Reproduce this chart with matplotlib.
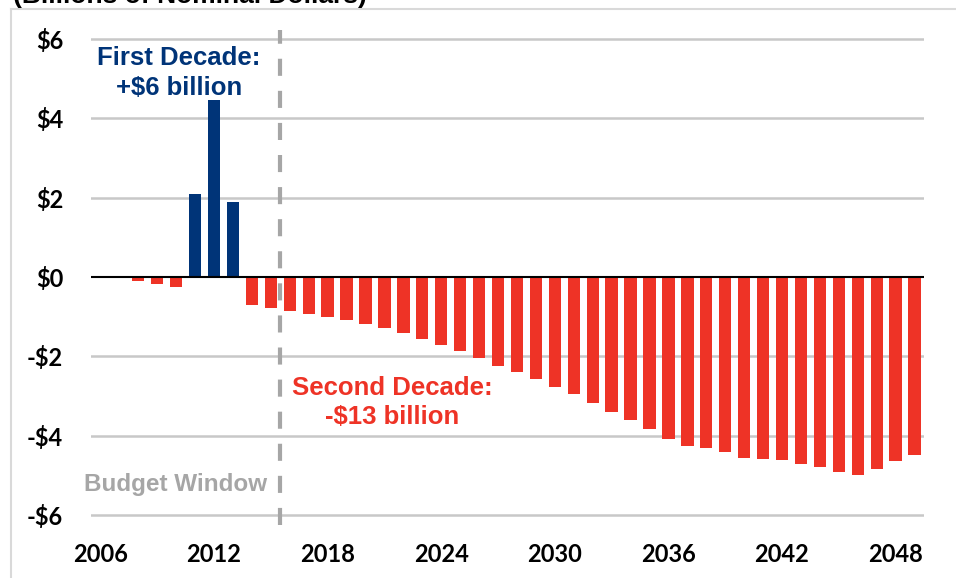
import matplotlib
matplotlib.use("Agg")
import matplotlib.pyplot as plt
from matplotlib.lines import Line2D

years = list(range(2006, 2050))
values = [-0.01, -0.02, -0.10, -0.17, -0.24, 2.09, 4.46, 1.89, -0.70, -0.77,
          -0.85, -0.92, -1.00, -1.08, -1.18, -1.28, -1.40, -1.56, -1.72, -1.87,
          -2.05, -2.24, -2.40, -2.57, -2.76, -2.94, -3.17, -3.40, -3.61, -3.83,
          -4.08, -4.25, -4.30, -4.40, -4.55, -4.59, -4.61, -4.71, -4.80, -4.91,
          -5.00, -4.85, -4.64, -4.49]
xtick_years = [2006, 2012, 2018, 2024, 2030, 2036, 2042, 2048]
ytick_vals = [-6, -4, -2, 0, 2, 4, 6]
ytick_labels = ["-$6", "-$4", "-$2", "$0", "$2", "$4", "$6"]
budget_window_end = 2015.5

NAVY = "#003478"
RED = "#EE3326"
GRAY = "#A6A6A6"

W, H = 956, 578
fig = plt.figure(figsize=(W / 100, H / 100), dpi=100)
ax = fig.add_axes([91 / W, (H - 525) / H, (924 - 91) / W, (525 - 30) / H])

colors = [NAVY if v > 0 else RED for v in values]
ax.bar(years, values, width=0.65, color=colors, zorder=3)

ax.set_xlim(2005.5, 2049.5)
ax.set_ylim(-6.25, 6.23)
for v in ytick_vals:
    if v == 0:
        ax.axhline(0, color="black", lw=1.5, zorder=4)
    else:
        ax.axhline(v, color="#C8C8C8", lw=1.8, zorder=1)

ax.axvline(budget_window_end, color=GRAY, lw=3.0, dashes=(4.1, 3.6), zorder=5)

for s in ax.spines.values():
    s.set_visible(False)
ax.set_xticks(xtick_years)
ax.set_xticklabels([str(y) for y in xtick_years])
ax.set_yticks(ytick_vals)
ax.set_yticklabels(ytick_labels)
ax.tick_params(length=0)
ax.tick_params(axis="x", pad=13)
ax.tick_params(axis="y", pad=20)
for lab in ax.get_xticklabels() + ax.get_yticklabels():
    lab.set_fontfamily(["Lato", "DejaVu Sans"])
    lab.set_fontweight("bold")
    lab.set_fontsize(17)

ann_font = ["Liberation Sans", "DejaVu Sans"]
ax.text(2010.15, 5.15, "First Decade:\n+$6 billion", color=NAVY, fontsize=18.5,
        fontweight="bold", family=ann_font, ha="center", va="center",
        linespacing=1.3, zorder=6)
ax.text(2021.4, -3.16, "Second Decade:\n-$13 billion", color=RED, fontsize=18.5,
        fontweight="bold", family=ann_font, ha="center", va="center",
        linespacing=1.3, zorder=6)
ax.text(2009.99, -5.22, "Budget Window", color=GRAY, fontsize=17.5,
        fontweight="bold", family=ann_font, ha="center", va="center", zorder=6)

# outer frame (top and left edges visible)
fig.add_artist(Line2D([11 / W, 11 / W], [0, (H - 9) / H], color="#D9D9D9", lw=1.5))
fig.add_artist(Line2D([11 / W, 1], [(H - 9) / H, (H - 9) / H], color="#D9D9D9", lw=1.5))

fig.text(13 / W, (H - 3) / H, "(Billions of Nominal Dollars)", fontsize=19,
         fontweight="bold", family=ann_font, ha="left", va="baseline")

fig.savefig("out.png", dpi=100)
